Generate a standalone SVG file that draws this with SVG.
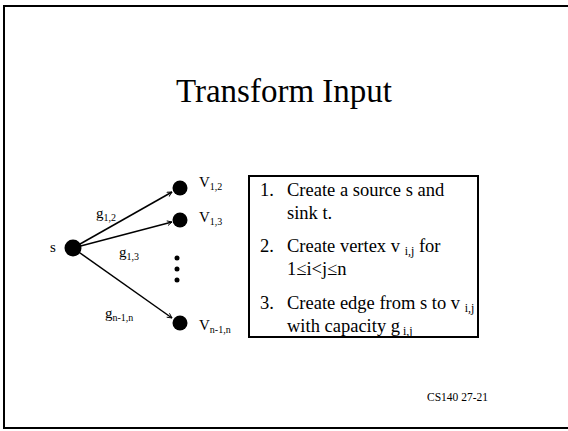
<svg xmlns="http://www.w3.org/2000/svg" width="568" height="431" viewBox="0 0 568 431">
<defs>
<style>
text{font-family:"Liberation Serif","Times New Roman",serif;fill:#000}
.title{font-size:33px;text-anchor:middle}
.lbl{font-size:15px}
.box{font-size:18.5px}
.sub{font-size:10px}
.bsub{font-size:12px}
.edge{stroke:#000;stroke-width:1.5;fill:none;marker-end:url(#ah)}
.node{fill:#000}
</style>
<marker id="ah" viewBox="0 0 10 10" refX="9" refY="5" markerWidth="6" markerHeight="6" orient="auto" markerUnits="userSpaceOnUse">
<path d="M1,1 L9,5 L1,9" fill="none" stroke="#000" stroke-width="1.5"/>
</marker>
</defs>
<rect width="568" height="431" fill="#fff"/>
<path d="M568,6 H4 V428 H568" fill="none" stroke="#000" stroke-width="2"/>
<text class="title" x="284" y="102">Transform Input</text>
<g id="connectors">
<line class="edge" x1="73" y1="248" x2="172" y2="192"/>
<line class="edge" x1="73" y1="248" x2="172" y2="222"/>
<line class="edge" x1="73" y1="248" x2="172" y2="318"/>
</g>
<g id="s"><circle class="node" cx="73" cy="248" r="8.5"/><text class="lbl" x="50" y="252">s</text></g>
<g id="v12"><circle class="node" cx="180" cy="188" r="7.5"/><text class="lbl" x="199" y="187">V<tspan class="sub" dy="3">1,2</tspan></text></g>
<g id="v13"><circle class="node" cx="180" cy="220" r="7.5"/><text class="lbl" x="199" y="222">V<tspan class="sub" dy="3">1,3</tspan></text></g>
<g id="vn"><circle class="node" cx="180" cy="323" r="7.5"/><text class="lbl" x="199" y="330">V<tspan class="sub" dy="3">n-1,n</tspan></text></g>
<g id="dots"><circle class="node" cx="177" cy="258" r="2.5"/><circle class="node" cx="177" cy="269" r="2.5"/><circle class="node" cx="177" cy="280" r="2.5"/></g>
<g id="edge-labels">
<text class="lbl" x="96" y="218">g<tspan class="sub" dy="3">1,2</tspan></text>
<text class="lbl" x="119" y="257">g<tspan class="sub" dy="3">1,3</tspan></text>
<text class="lbl" x="105" y="318">g<tspan class="sub" dy="3">n-1,n</tspan></text>
</g>
<g id="steps">
<rect x="249" y="176" width="229" height="161" fill="none" stroke="#000" stroke-width="2"/>
<text class="box" x="260" y="196">1.</text><text class="box" x="287" y="196">Create a source s and</text>
<text class="box" x="287" y="219">sink t.</text>
<text class="box" x="260" y="252">2.</text><text class="box" x="287" y="252">Create vertex v <tspan class="bsub" dy="3">i,j</tspan><tspan dy="-3"> for</tspan></text>
<text class="box" x="287" y="275">1≤i&lt;j≤n</text>
<text class="box" x="260" y="309">3.</text><text class="box" x="287" y="309">Create edge from s to v <tspan class="bsub" dy="3">i,j</tspan></text>
<text class="box" x="287" y="332">with capacity g<tspan class="bsub" dy="3"> i,j</tspan></text>
</g>
<text x="427" y="401" style="font-size:11.5px">CS140 27-21</text>
</svg>
